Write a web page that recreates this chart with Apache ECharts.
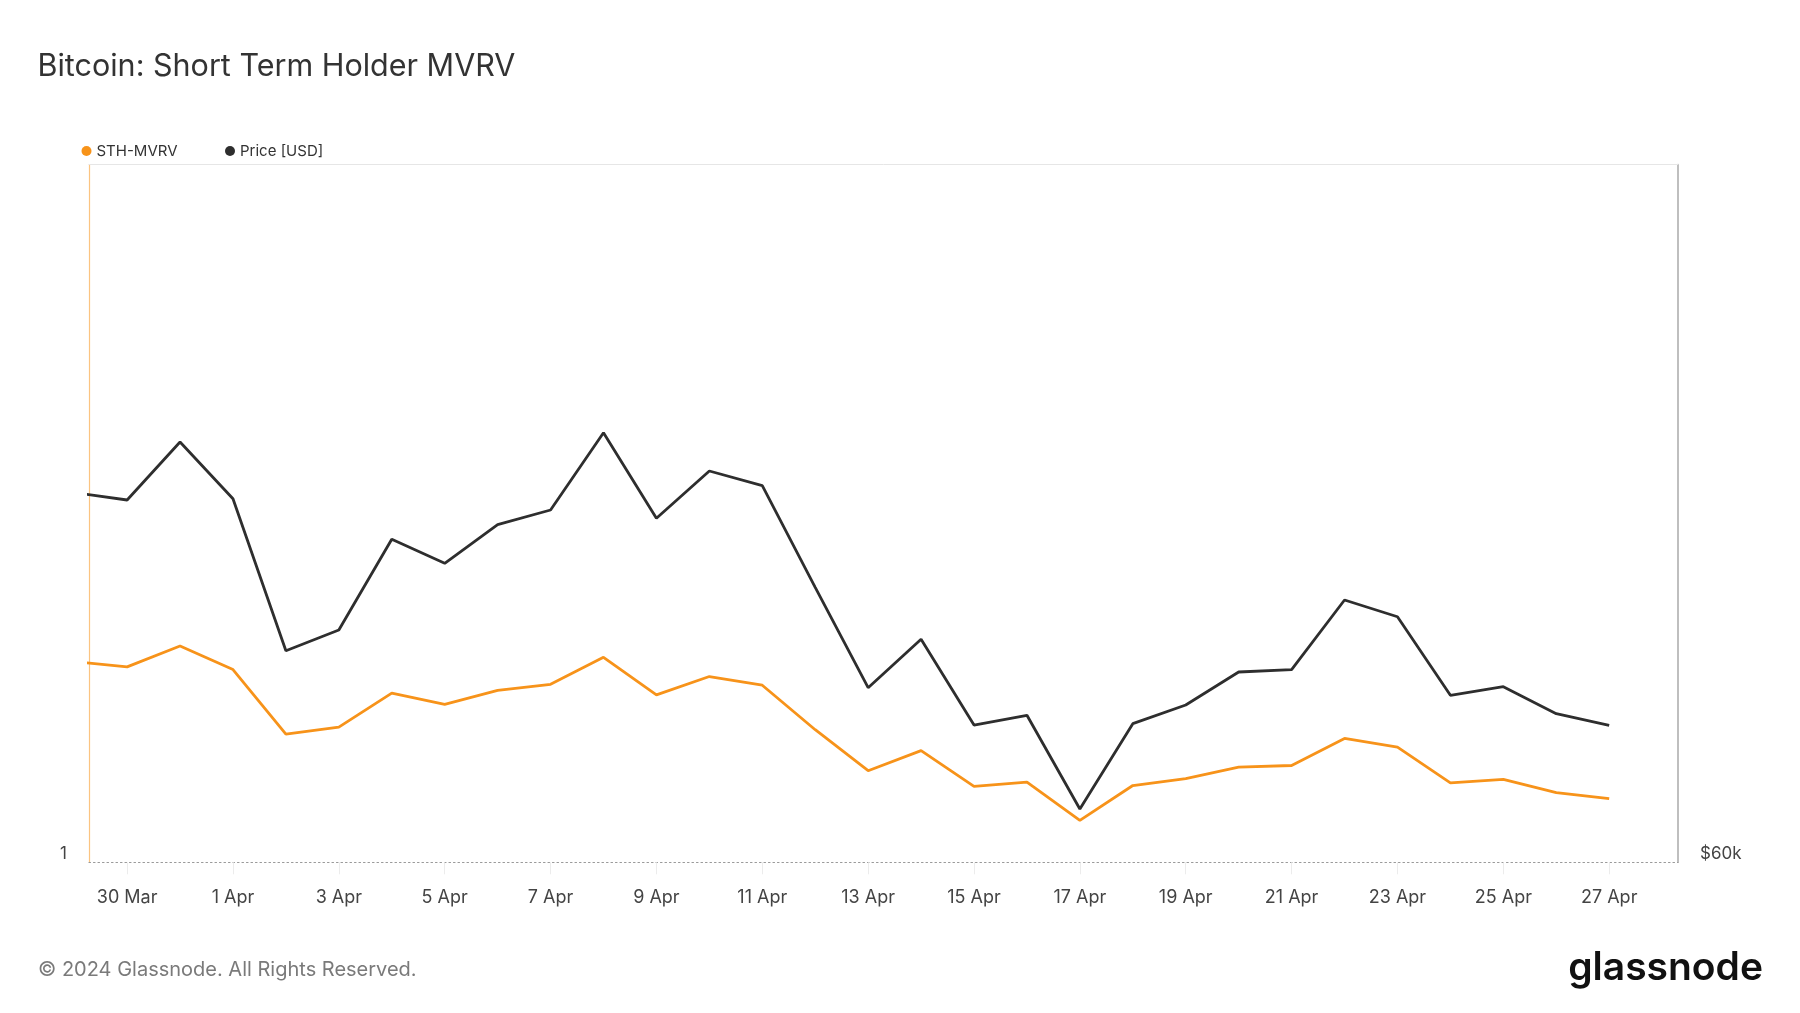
<!DOCTYPE html>
<html>
<head>
<meta charset="utf-8">
<script src="https://cdn.jsdelivr.net/npm/echarts@6/dist/echarts.min.js"></script>
<style>
  html, body { margin: 0; padding: 0; background: #fff; }
  #chart { width: 1800px; height: 1013px; }
</style>
</head>
<body>
<div id="chart"></div>
<script>
// Daily dates (index 0 = 29 Mar)
const dates = ['29 Mar','30 Mar','31 Mar','1 Apr','2 Apr','3 Apr','4 Apr','5 Apr','6 Apr','7 Apr',
  '8 Apr','9 Apr','10 Apr','11 Apr','12 Apr','13 Apr','14 Apr','15 Apr','16 Apr','17 Apr',
  '18 Apr','19 Apr','20 Apr','21 Apr','22 Apr','23 Apr','24 Apr','25 Apr','26 Apr','27 Apr'];
const tickLabels = ['30 Mar','1 Apr','3 Apr','5 Apr','7 Apr','9 Apr','11 Apr','13 Apr',
  '15 Apr','17 Apr','19 Apr','21 Apr','23 Apr','25 Apr','27 Apr'];
const sthMvrv = [1.230,1.224,1.248,1.221,1.147,1.155,1.194,1.181,1.197,1.204,
  1.235,1.192,1.213,1.203,1.152,1.105,1.128,1.087,1.092,1.048,
  1.088,1.096,1.109,1.111,1.142,1.132,1.091,1.095,1.080,1.073];
const price = [70066,69865,71444,69900,65761,66325,68795,68141,69192,69593,
  71697,69366,70654,70254,67488,64754,66072,63738,64003,61451,
  63774,64283,65181,65244,67142,66687,64547,64781,64046,63730];
const leftAxisLabels = ['1'];
const rightAxisLabels = ['$60k'];

const tickIdx = tickLabels.map(t => dates.indexOf(t));
const mvrvData = sthMvrv.map((v, i) => [i, v]);
const priceData = price.map((v, i) => [i, v]);

const chart = echarts.init(document.getElementById('chart'), null, { renderer: 'canvas' });
const FONT = 'Inter, "Noto Sans", sans-serif';

chart.setOption({
  backgroundColor: '#ffffff',
  animation: false,
  title: {
    text: 'Bitcoin: Short Term Holder MVRV',
    left: 32.5, top: 46,
    textStyle: { fontFamily: FONT, fontSize: 30.5, fontWeight: 'normal', color: '#333333' }
  },
  legend: {
    left: 76.5, top: 138.5,
    icon: 'circle', itemWidth: 10, itemHeight: 10, itemGap: 47.5,
    textStyle: { fontFamily: FONT, fontSize: 15, color: '#333333' },
    data: ['STH-MVRV', 'Price [USD]']
  },
  grid: { left: 89, right: 122, top: 164.5, bottom: 150.7, containLabel: false },
  xAxis: [{
    type: 'value', min: 0.28, max: 30.3,
    splitLine: { show: false },
    axisLine: { show: true, onZero: false, lineStyle: { color: '#9a9a9a', type: [1.5, 3], width: 1.2 } },
    axisTick: { show: true, customValues: tickIdx, length: 12, lineStyle: { color: '#ececec', width: 1 } },
    axisLabel: {
      customValues: tickIdx, margin: 26,
      formatter: v => dates[Math.round(v)],
      fontFamily: FONT, fontSize: 18, color: '#444444'
    }
  }, {
    type: 'value', position: 'top', min: 0.28, max: 30.3,
    splitLine: { show: false },
    axisLine: { show: true, onZero: false, lineStyle: { color: '#e6e6e6', width: 1 } },
    axisTick: { show: false }, axisLabel: { show: false }
  }],
  yAxis: [{
    type: 'value', position: 'left', min: 1, max: 1.8,
    splitLine: { show: false },
    axisLine: { show: true, lineStyle: { color: 'rgba(247,147,26,0.55)', width: 1.2 } },
    axisTick: { show: false },
    axisLabel: {
      customValues: [1], formatter: () => leftAxisLabels[0], margin: 22,
      verticalAlign: 'bottom',
      fontFamily: FONT, fontSize: 17, color: '#444444'
    }
  }, {
    type: 'value', position: 'right', min: 60000, max: 79000,
    splitLine: { show: false },
    axisLine: { show: true, lineStyle: { color: '#aaaaaa', width: 1.5 } },
    axisTick: { show: false },
    axisLabel: {
      customValues: [60000], formatter: () => rightAxisLabels[0], margin: 22,
      verticalAlign: 'bottom',
      fontFamily: FONT, fontSize: 17, color: '#444444'
    }
  }],
  series: [{
    name: 'STH-MVRV', type: 'line', xAxisIndex: 0, yAxisIndex: 0,
    data: mvrvData, showSymbol: false, symbol: 'none', clip: true,
    lineStyle: { color: '#f7931a', width: 2.8 }, itemStyle: { color: '#f7931a' }, z: 3
  }, {
    name: 'Price [USD]', type: 'line', xAxisIndex: 0, yAxisIndex: 1,
    data: priceData, showSymbol: false, symbol: 'none', clip: true,
    lineStyle: { color: '#2e2e2e', width: 2.8 }, itemStyle: { color: '#2e2e2e' }, z: 2
  }],
  graphic: [{
    type: 'text', left: 38, top: 960,
    style: { text: '© 2024 Glassnode. All Rights Reserved.', fontFamily: FONT, fontSize: 20, fill: '#7a7a7a' }
  }, {
    type: 'text', right: 37, top: 949,
    style: { text: 'glassnode', fontFamily: FONT, fontSize: 39, fontWeight: 600, fill: '#111111' }
  }]
});
</script>
</body>
</html>
